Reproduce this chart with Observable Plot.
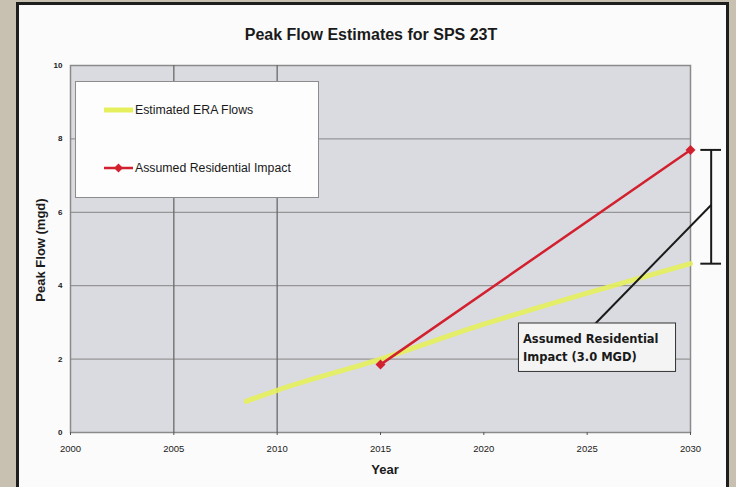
<!DOCTYPE html>
<html>
<head>
<meta charset="utf-8">
<script src="https://cdn.jsdelivr.net/npm/d3@7"></script>
<script src="https://cdn.jsdelivr.net/npm/@observablehq/plot@0.6"></script>
<style>
  html, body { margin: 0; padding: 0; }
  body { width: 736px; height: 487px; overflow: hidden; background: #c8c0b0; font-family: "Liberation Sans", Arial, sans-serif; }
  #page { position: absolute; left: 16px; top: 2px; width: 707px; height: 492px; background: #fbfbfb; border: 3px solid #1e1e1e; }
  #chart { position: absolute; left: 0; top: 0; }
  .t { position: absolute; color: #1a1a1a; font-weight: bold; white-space: nowrap; }
  #title { left: 0; width: 742px; top: 26px; text-align: center; font-size: 16px; }
  #xlabel { left: 0; width: 770px; top: 462px; text-align: center; font-size: 13px; }
  #ylabel { left: 40px; top: 250px; font-size: 13px; transform: translate(-50%, -50%) rotate(-90deg); }
  #legend { position: absolute; left: 75px; top: 81px; width: 242px; height: 115px; background: #fdfdfd; border: 1px solid #8c8c8c; font-size: 12.3px; color: #1a1a1a; }
  .li { position: absolute; left: 28px; display: flex; align-items: center; }
  .li span { margin-left: 2px; }
  .note text { font-family: "DejaVu Sans", sans-serif; }
</style>
</head>
<body>
<div id="page"></div>
<div id="chart"></div>
<div id="legend"></div>
<div class="t" id="title"></div>
<div class="t" id="ylabel"></div>
<div class="t" id="xlabel"></div>
<script>
// ---- data ----
const title = "Peak Flow Estimates for SPS 23T";
const xLabel = "Year";
const yLabel = "Peak Flow (mgd)";
const seriesNames = ["Estimated ERA Flows", "Assumed Residential Impact"];
const eraYears = [2008.5, 2010, 2015, 2020, 2025, 2030];
const eraFlows = [0.85, 1.15, 2.0, 2.95, 3.8, 4.6];
const resYears = [2015, 2030];
const resFlows = [1.85, 7.7];
const xTicks = [2000, 2005, 2010, 2015, 2020, 2025, 2030];
const yTicks = [0, 2, 4, 6, 8, 10];
const yGrid = [2, 4, 6, 8];
const xGrid = [2005, 2010];
// bracket showing the residential impact at 2030
const bracketYear = [2031];
const bracketLow = [4.6];
const bracketHigh = [7.7];
// annotation
const noteLines = ["Assumed Residential", "Impact (3.0 MGD)"];
const noteBox = [{x1: 2021.7, x2: 2029.3, y1: 1.65, y2: 2.97}];
const leader = [{x1: 2031, y1: 6.2, x2: 2025.4, y2: 2.97}];

const yellow = "#e5f05c";
const red = "#d2202e";

const era = eraYears.map((x, i) => ({x, y: eraFlows[i]}));
const res = resYears.map((x, i) => ({x, y: resFlows[i]}));
const bracket = bracketYear.map((x, i) => ({x, lo: bracketLow[i], hi: bracketHigh[i]}));
const caps = bracket.flatMap(d => [{x1: d.x - 0.5, x2: d.x + 0.5, y: d.lo}, {x1: d.x - 0.5, x2: d.x + 0.5, y: d.hi}]);

const chart = Plot.plot({
  width: 736,
  height: 487,
  marginLeft: 70,
  marginRight: 46,
  marginTop: 65,
  marginBottom: 55,
  style: {background: "transparent", fontFamily: "Liberation Sans, Arial, sans-serif", color: "#1a1a1a"},
  x: {domain: [2000, 2030], label: null},
  y: {domain: [0, 10], label: null},
  marks: [
    Plot.frame({fill: "#dadbe0", stroke: "#8a8a8a", strokeWidth: 1.5}),
    Plot.ruleY(yGrid, {stroke: "#858585", strokeWidth: 1}),
    Plot.ruleX(xGrid, {stroke: "#6a6a6a", strokeWidth: 1.3}),
    Plot.line(era, {x: "x", y: "y", stroke: yellow, strokeWidth: 5, curve: "monotone-x", strokeOpacity: 0.9}),
    Plot.line(res, {x: "x", y: "y", stroke: red, strokeWidth: 2.5}),
    Plot.dot(res, {x: "x", y: "y", symbol: "diamond2", fill: red, r: 4.5}),
    Plot.ruleX(bracket, {x: "x", y1: "lo", y2: "hi", stroke: "#1a1a1a", strokeWidth: 2}),
    Plot.ruleY(caps, {y: "y", x1: "x1", x2: "x2", stroke: "#1a1a1a", strokeWidth: 2}),
    Plot.link(leader, {x1: "x1", y1: "y1", x2: "x2", y2: "y2", stroke: "#1a1a1a", strokeWidth: 2}),
    Plot.rect(noteBox, {x1: "x1", x2: "x2", y1: "y1", y2: "y2", fill: "#f4f4f4", stroke: "#333", strokeWidth: 1}),
    Plot.text(noteBox, {x: "x1", y: "y2", text: () => noteLines.join("\n"), textAnchor: "start", lineAnchor: "top", dx: 4, dy: 6, fontSize: 11.5, fontWeight: "bold", lineHeight: 1.6, fill: "#1a1a1a", className: "note"}),
    Plot.axisY(yTicks, {tickSize: 0, tickPadding: 8, fontSize: 8, fontWeight: "bold", tickFormat: d => d}),
    Plot.axisX(xTicks, {tickSize: 3, tickPadding: 10, fontSize: 9.5, tickFormat: d => String(d), stroke: "#555"})
  ]
});
document.getElementById("chart").appendChild(chart);

document.getElementById("title").textContent = title;
document.getElementById("xlabel").textContent = xLabel;
document.getElementById("ylabel").textContent = yLabel;

const legend = document.getElementById("legend");
const sw = [
  `<svg width="29" height="10"><line x1="0" y1="5" x2="29" y2="5" stroke="${yellow}" stroke-width="5"/></svg>`,
  `<svg width="29" height="10"><line x1="0" y1="5" x2="29" y2="5" stroke="${red}" stroke-width="2.5"/><path d="M14.5,0.5L19,5L14.5,9.5L10,5Z" fill="${red}"/></svg>`
];
seriesNames.forEach((name, i) => {
  const el = document.createElement("div");
  el.className = "li";
  el.style.top = (i === 0 ? 21 : 79) + "px";
  el.innerHTML = sw[i] + `<span>${name}</span>`;
  legend.appendChild(el);
});
</script>
</body>
</html>
